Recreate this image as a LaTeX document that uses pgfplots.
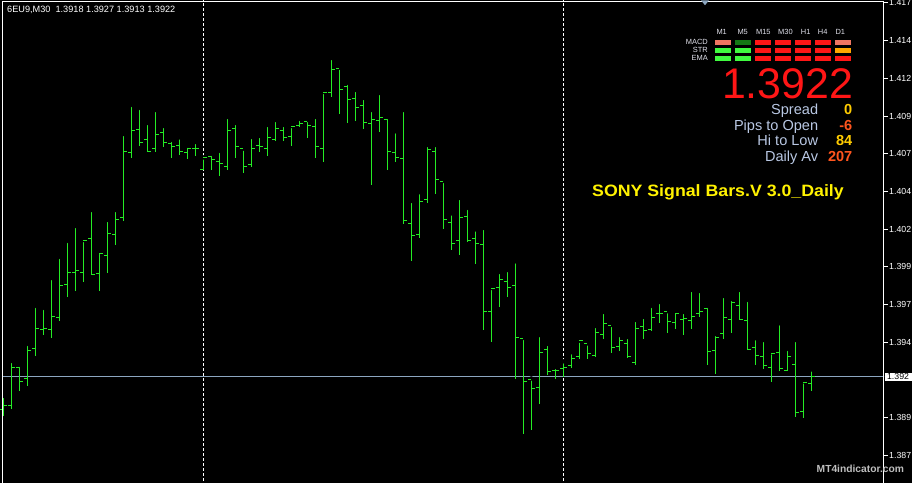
\documentclass[border=0pt]{standalone}
\usepackage{pgfplots}
\pgfplotsset{compat=1.18}
\usepackage{pgfplotstable}
\usepackage{fontspec}
\setmainfont{Liberation Sans}

\definecolor{barcol}{RGB}{36,236,36}
\definecolor{bidcol}{RGB}{140,166,192}
\definecolor{lblcol}{RGB}{185,200,228}
\definecolor{valgold}{RGB}{255,204,0}
\definecolor{valred}{RGB}{255,85,30}
\definecolor{pxred}{RGB}{255,22,22}
\definecolor{cellsalmon}{RGB}{240,118,98}
\definecolor{celldkgreen}{RGB}{20,120,20}
\definecolor{celllime}{RGB}{64,250,64}
\definecolor{cellorange}{RGB}{255,168,0}
\definecolor{paneltext}{RGB}{225,225,235}

% open tick to the left, close tick to the right
\pgfdeclareplotmark{otick}{\pgfpathmoveto{\pgfpoint{-3.3bp}{0pt}}\pgfpathlineto{\pgfpoint{0pt}{0pt}}\pgfusepathqstroke}
\pgfdeclareplotmark{ctick}{\pgfpathmoveto{\pgfpoint{0pt}{0pt}}\pgfpathlineto{\pgfpoint{3.3bp}{0pt}}\pgfusepathqstroke}

% 6EU9 M30 bars: index, open, high, low, close
\pgfplotstableread{
x o h l c
0 1.39001 1.39094 1.38961 1.39034
1 1.39028 1.39326 1.39010 1.39286
2 1.39280 1.39300 1.39129 1.39193
3 1.39207 1.39439 1.39162 1.39397
4 1.39406 1.39691 1.39361 1.39543
5 1.39538 1.39678 1.39500 1.39540
6 1.39536 1.39876 1.39481 1.39622
7 1.39616 1.40016 1.39593 1.39828
8 1.39835 1.40122 1.39752 1.39910
9 1.39914 1.40221 1.39792 1.39927
10 1.39914 1.40128 1.39852 1.40126
11 1.40140 1.40327 1.39894 1.39900
12 1.39908 1.40049 1.39792 1.40036
13 1.40027 1.40261 1.39912 1.40168
14 1.40162 1.40327 1.40097 1.40266
15 1.40279 1.40831 1.40256 1.40717
16 1.40710 1.41024 1.40674 1.40851
17 1.40858 1.41004 1.40754 1.40776
18 1.40792 1.40904 1.40710 1.40717
19 1.40732 1.40990 1.40710 1.40829
20 1.40838 1.40884 1.40745 1.40776
21 1.40770 1.40792 1.40674 1.40750
22 1.40756 1.40809 1.40694 1.40717
23 1.40710 1.40752 1.40668 1.40736
24 1.40732 1.40778 1.40687 1.40734
25 1.40597 1.40676 1.40595 1.40674
26 1.40679 1.40699 1.40595 1.40659
27 1.40650 1.40719 1.40555 1.40637
28 1.40617 1.40944 1.40595 1.40856
29 1.40869 1.40904 1.40674 1.40750
30 1.40732 1.40734 1.40575 1.40617
31 1.40630 1.40811 1.40614 1.40736
32 1.40756 1.40818 1.40714 1.40750
33 1.40736 1.40891 1.40687 1.40809
34 1.40796 1.40924 1.40787 1.40869
35 1.40856 1.40891 1.40787 1.40809
36 1.40816 1.40884 1.40754 1.40882
37 1.40889 1.40931 1.40876 1.40902
38 1.40911 1.40924 1.40805 1.40889
39 1.40882 1.40944 1.40674 1.40750
40 1.40736 1.41110 1.40648 1.41103
41 1.41108 1.41335 1.41079 1.41260
42 1.41267 1.41270 1.40966 1.41128
43 1.41143 1.41170 1.40906 1.41061
44 1.41068 1.41123 1.40920 1.41008
45 1.41022 1.41070 1.40866 1.40909
46 1.40902 1.40990 1.40493 1.40929
47 1.40922 1.41103 1.40847 1.40942
48 1.40929 1.40944 1.40595 1.40717
49 1.40710 1.40849 1.40648 1.40677
50 1.40670 1.40990 1.40237 1.40259
51 1.40239 1.40387 1.39991 1.40160
52 1.40166 1.40445 1.40144 1.40385
53 1.40398 1.40758 1.40376 1.40730
54 1.40717 1.40758 1.40435 1.40531
55 1.40518 1.40520 1.40203 1.40266
56 1.40246 1.40305 1.40064 1.40107
57 1.40126 1.40407 1.40031 1.40279
58 1.40286 1.40341 1.40117 1.40124
59 1.40140 1.40199 1.39971 1.40107
60 1.40100 1.40208 1.39534 1.39651
61 1.39656 1.39810 1.39454 1.39808
62 1.39815 1.39916 1.39686 1.39868
63 1.39855 1.39929 1.39752 1.39815
64 1.39828 1.39987 1.39205 1.39483
65 1.39477 1.39479 1.38845 1.39191
66 1.39205 1.39210 1.38868 1.39145
67 1.39152 1.39498 1.39043 1.39384
68 1.39399 1.39439 1.39235 1.39258
69 1.39264 1.39286 1.39205 1.39260
70 1.39278 1.39324 1.39218 1.39284
71 1.39297 1.39384 1.39282 1.39344
72 1.39357 1.39461 1.39339 1.39459
73 1.39439 1.39443 1.39339 1.39377
74 1.39364 1.39558 1.39353 1.39518
75 1.39503 1.39651 1.39472 1.39576
76 1.39563 1.39565 1.39381 1.39417
77 1.39424 1.39498 1.39392 1.39459
78 1.39445 1.39485 1.39344 1.39357
79 1.39317 1.39598 1.39301 1.39543
80 1.39556 1.39618 1.39474 1.39525
81 1.39536 1.39691 1.39523 1.39616
82 1.39638 1.39717 1.39578 1.39640
83 1.39651 1.39656 1.39514 1.39585
84 1.39578 1.39656 1.39538 1.39638
85 1.39603 1.39651 1.39496 1.39605
86 1.39596 1.39797 1.39538 1.39622
87 1.39638 1.39790 1.39616 1.39656
88 1.39676 1.39691 1.39301 1.39386
89 1.39397 1.39505 1.39242 1.39483
90 1.39505 1.39757 1.39474 1.39616
91 1.39603 1.39737 1.39514 1.39711
92 1.39697 1.39797 1.39596 1.39603
93 1.39596 1.39731 1.39397 1.39404
94 1.39417 1.39477 1.39301 1.39364
95 1.39357 1.39465 1.39275 1.39297
96 1.39284 1.39384 1.39189 1.39377
97 1.39384 1.39576 1.39258 1.39278
98 1.39264 1.39406 1.39258 1.39357
99 1.39304 1.39465 1.38953 1.38986
100 1.38992 1.39191 1.38950 1.39185
101 1.39180 1.39270 1.39130 1.39220
}\ohlc

\begin{document}
\begin{tikzpicture}[x=1bp,y=1bp]
\useasboundingbox (0,0) rectangle (912,483);
\fill[black] (0,0) rectangle (912,483);

\begin{axis}[
  at={(2bp,0bp)}, anchor=south west,
  scale only axis, width=882bp, height=482bp,
  xmin=-0.1625, xmax=110.0875,
  ymin=1.38517, ymax=1.41713,
  axis background/.style={fill=black},
  axis line style={draw=none},
  xtick=\empty,
  ytick={1.3870,1.3895,1.3945,1.3970,1.3995,1.4020,1.4045,1.4070,1.4095,1.4120,1.4145,1.4170},
  yticklabels={1.387,1.389,1.394,1.397,1.399,1.402,1.404,1.407,1.409,1.412,1.414,1.417},
  ytick pos=right, yticklabel pos=right,
  tick align=outside, major tick length=4bp,
  tick style={white, line width=1bp},
  yticklabel style={font=\fontsize{8.8}{10}\selectfont, text=white, anchor=west, inner sep=0pt, xshift=1bp},
]
% day separators
\addplot[white, line width=1bp, dash pattern=on 3bp off 2bp, forget plot] coordinates {(25,1.38) (25,1.42)};
\addplot[white, line width=1bp, dash pattern=on 3bp off 2bp, forget plot] coordinates {(70,1.38) (70,1.42)};
% bid line
\addplot[bidcol, line width=1bp, forget plot] coordinates {(-1,1.3922) (111,1.3922)};
% high-low ranges
\addplot[only marks, mark=none, forget plot,
  error bars/.cd, y dir=minus, y explicit,
  error mark=none, error bar style={barcol, line width=1bp}]
  table[x=x, y=h, y error expr=\thisrow{h}-\thisrow{l}] {\ohlc};
% opens and closes
\addplot[only marks, mark=otick, mark options={barcol, line width=1bp}, forget plot]
  table[x=x, y=o] {\ohlc};
\addplot[only marks, mark=ctick, mark options={barcol, line width=1bp}, forget plot]
  table[x=x, y=c] {\ohlc};
\coordinate (bidR) at (axis cs:110.0875,1.3922);
\end{axis}

% chart frame
\draw[white, line width=1bp] (2.5,0) -- (2.5,481.5) -- (883.8,481.5) -- (883.8,0);
% current price box on the scale
\node[fill=white, text=black, anchor=west, inner xsep=2.6bp, inner ysep=1bp,
      font=\fontsize{8.8}{10}\selectfont] at ([xshift=0.3bp]bidR) {1.392};
% chart shift marker
\fill[bidcol] (701,482.6) -- (709,482.6) -- (705,477.8) -- cycle;

% symbol header
\node[anchor=base west, inner sep=0pt, text=white, font=\fontsize{9.2}{11}\selectfont]
  at (7,470.3) {6EU9,M30\ \ 1.3918 1.3927 1.3913 1.3922};

% signal panel
\begin{scope}[font=\fontsize{7.5}{8}\selectfont, text=paneltext]
  \foreach \lab/\cx in {M1/721.7, M5/742.7, M15/763.3, M30/785.5, H1/805.7, H4/822.7, D1/840.3}
    \node[anchor=base, inner sep=0pt] at (\cx,448.3) {\lab};
  \node[anchor=base east, inner sep=0pt] at (708,438.3) {MACD};
  \node[anchor=base east, inner sep=0pt] at (708,430.3) {STR};
  \node[anchor=base east, inner sep=0pt] at (708,422.3) {EMA};
\end{scope}
\foreach \c [count=\j from 0] in {cellsalmon,celldkgreen,pxred,pxred,pxred,pxred,cellsalmon}
  \fill[\c] (715+20*\j,438) rectangle (731+20*\j,443);
\foreach \c [count=\j from 0] in {celllime,celllime,pxred,pxred,pxred,pxred,cellorange}
  \fill[\c] (715+20*\j,430) rectangle (731+20*\j,435);
\foreach \c [count=\j from 0] in {celllime,celllime,pxred,pxred,pxred,pxred,pxred}
  \fill[\c] (715+20*\j,422) rectangle (731+20*\j,427);

\node[anchor=base east, inner sep=0pt, text=pxred, font=\fontsize{43}{46}\selectfont] at (853.3,384.2) {1.3922};

\begin{scope}[font=\fontsize{14.6}{16}\selectfont]
  \node[anchor=base east, inner sep=0pt, text=lblcol] at (818.3,368.6) {Spread};
  \node[anchor=base east, inner sep=0pt, text=lblcol] at (818.3,352.3) {Pips to Open};
  \node[anchor=base east, inner sep=0pt, text=lblcol] at (818.3,337) {Hi to Low};
  \node[anchor=base east, inner sep=0pt, text=lblcol] at (818.3,321.3) {Daily Av};
  \node[anchor=base east, inner sep=0pt, text=valgold, font=\fontsize{14.6}{16}\selectfont\bfseries] at (852.5,368.6) {0};
  \node[anchor=base east, inner sep=0pt, text=valred, font=\fontsize{14.6}{16}\selectfont\bfseries] at (852.5,352.3) {-6};
  \node[anchor=base east, inner sep=0pt, text=valgold, font=\fontsize{14.6}{16}\selectfont\bfseries] at (852.5,337) {84};
  \node[anchor=base east, inner sep=0pt, text=valred, font=\fontsize{14.6}{16}\selectfont\bfseries] at (852.5,321.3) {207};
\end{scope}

\node[anchor=base east, inner sep=0pt, text=yellow, xscale=1.08, transform shape,
      font=\fontsize{16.5}{18}\selectfont\bfseries]
  at (844,286) {SONY Signal Bars.V 3.0\_Daily};

\node[anchor=base west, inner sep=0pt, text=black!25, font=\fontsize{10.3}{12}\selectfont\bfseries]
  at (816.5,10.3) {MT4indicator.com};
\end{tikzpicture}
\end{document}
